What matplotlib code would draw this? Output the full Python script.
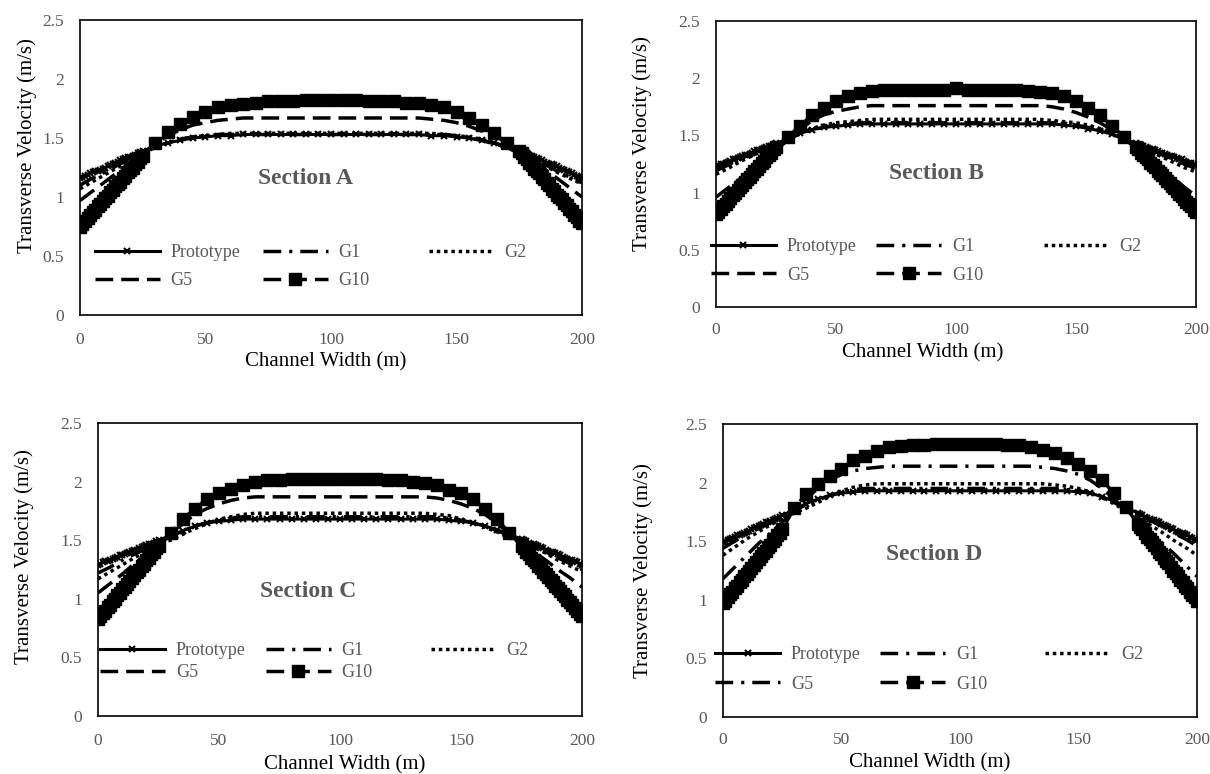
# Transverse velocity profiles across the channel width for sections A-D,
# comparing the prototype with the distorted models G1, G2, G5 and G10.

import matplotlib
matplotlib.use('Agg')
import matplotlib.pyplot as plt
from matplotlib.legend import Legend

plt.rcParams['font.family'] = ['Liberation Serif', 'DejaVu Serif']

# ----- x positions (m) -----
# dense near the banks, every 5 m in the middle (Prototype, G10)
x_fine = [0, 1, 2, 3, 4, 5, 6, 7, 8, 9, 10, 11, 12, 13, 14, 15, 16, 17, 18, 19, 20, 21, 22, 23, 24, 25,
          30, 35, 40, 45, 50, 55, 60, 65, 70, 75, 80, 85, 90, 95, 100, 105, 110, 115, 120, 125, 130, 135,
          140, 145, 150, 155, 160, 165, 170,
          175, 176, 177, 178, 179, 180, 181, 182, 183, 184, 185, 186, 187, 188, 189, 190, 191, 192, 193,
          194, 195, 196, 197, 198, 199, 200]
# every 5 m (G1, G2, G5)
x_coarse = [0, 5, 10, 15, 20, 25, 30, 35, 40, 45, 50, 55, 60, 65, 70, 75, 80, 85, 90, 95, 100,
            105, 110, 115, 120, 125, 130, 135, 140, 145, 150, 155, 160, 165, 170, 175, 180, 185, 190, 195, 200]

# ----- Section A -----
proto_a = [1.16, 1.17, 1.18, 1.19, 1.20, 1.21, 1.22, 1.22, 1.23, 1.24, 1.25, 1.26, 1.27, 1.28, 1.29, 1.30,
           1.31, 1.32, 1.33, 1.34, 1.34, 1.35, 1.36, 1.37, 1.38, 1.39,
           1.43, 1.46, 1.48, 1.50, 1.51, 1.52, 1.52, 1.53, 1.53, 1.53, 1.53, 1.53, 1.53, 1.53, 1.53, 1.53,
           1.53, 1.53, 1.53, 1.53, 1.53, 1.53, 1.52, 1.52, 1.51, 1.50, 1.48, 1.46, 1.43,
           1.40, 1.39, 1.38, 1.37, 1.36, 1.35, 1.34, 1.33, 1.32, 1.31, 1.30, 1.29, 1.28, 1.28, 1.27, 1.26,
           1.25, 1.24, 1.23, 1.22, 1.21, 1.20, 1.19, 1.18, 1.17, 1.16]
g1_a = [1.10, 1.16, 1.21, 1.27, 1.32, 1.38, 1.43, 1.46, 1.49, 1.51, 1.52, 1.53, 1.53, 1.53, 1.53, 1.53,
        1.53, 1.53, 1.53, 1.53, 1.53, 1.53, 1.53, 1.53, 1.53, 1.53, 1.53, 1.53, 1.53, 1.53, 1.52, 1.50,
        1.48, 1.45, 1.42, 1.38, 1.33, 1.28, 1.22, 1.17, 1.12]
g2_a = [1.07, 1.13, 1.19, 1.25, 1.31, 1.37, 1.42, 1.46, 1.49, 1.51, 1.52, 1.53, 1.54, 1.54, 1.54, 1.54,
        1.54, 1.54, 1.54, 1.54, 1.54, 1.54, 1.54, 1.54, 1.54, 1.54, 1.54, 1.54, 1.54, 1.53, 1.52, 1.51,
        1.49, 1.46, 1.42, 1.37, 1.32, 1.27, 1.21, 1.16, 1.11]
g5_a = [0.97, 1.05, 1.13, 1.21, 1.29, 1.37, 1.45, 1.52, 1.57, 1.61, 1.63, 1.65, 1.66, 1.67, 1.67, 1.67,
        1.67, 1.67, 1.67, 1.67, 1.67, 1.67, 1.67, 1.67, 1.67, 1.67, 1.67, 1.67, 1.66, 1.65, 1.63, 1.60,
        1.56, 1.52, 1.46, 1.39, 1.32, 1.24, 1.16, 1.08, 1.00]
g10_a = [0.75, 0.77, 0.80, 0.82, 0.85, 0.87, 0.89, 0.92, 0.94, 0.97, 0.99, 1.01, 1.04, 1.06, 1.09, 1.11,
         1.13, 1.16, 1.18, 1.21, 1.23, 1.25, 1.28, 1.30, 1.33, 1.35,
         1.46, 1.55, 1.62, 1.68, 1.72, 1.76, 1.78, 1.79, 1.80, 1.81, 1.81, 1.81, 1.82, 1.82, 1.82, 1.82,
         1.82, 1.81, 1.81, 1.81, 1.80, 1.80, 1.78, 1.76, 1.72, 1.67, 1.61, 1.54, 1.46,
         1.39, 1.37, 1.34, 1.32, 1.29, 1.27, 1.24, 1.22, 1.20, 1.17, 1.15, 1.12, 1.10, 1.07, 1.05, 1.02,
         1.00, 0.98, 0.95, 0.93, 0.90, 0.88, 0.85, 0.83, 0.80, 0.78]

# ----- Section B -----
proto_b = [1.23, 1.24, 1.25, 1.25, 1.26, 1.27, 1.28, 1.29, 1.29, 1.30, 1.31, 1.32, 1.33, 1.33, 1.34, 1.35,
           1.36, 1.37, 1.37, 1.38, 1.39, 1.40, 1.41, 1.41, 1.42, 1.43,
           1.47, 1.52, 1.55, 1.57, 1.58, 1.59, 1.60, 1.60, 1.60, 1.60, 1.60, 1.60, 1.60, 1.60, 1.60, 1.60,
           1.60, 1.60, 1.60, 1.60, 1.60, 1.60, 1.60, 1.59, 1.58, 1.56, 1.54, 1.51, 1.47,
           1.43, 1.42, 1.42, 1.41, 1.40, 1.39, 1.38, 1.38, 1.37, 1.36, 1.35, 1.35, 1.34, 1.33, 1.32, 1.32,
           1.31, 1.30, 1.29, 1.29, 1.28, 1.27, 1.26, 1.26, 1.25, 1.24]
g1_b = [1.19, 1.24, 1.29, 1.34, 1.38, 1.42, 1.47, 1.51, 1.55, 1.57, 1.59, 1.60, 1.61, 1.61, 1.61, 1.61,
        1.61, 1.61, 1.61, 1.61, 1.61, 1.61, 1.61, 1.61, 1.61, 1.61, 1.61, 1.61, 1.61, 1.60, 1.59, 1.57,
        1.55, 1.51, 1.47, 1.43, 1.39, 1.34, 1.30, 1.25, 1.21]
g2_b = [1.16, 1.21, 1.27, 1.32, 1.37, 1.42, 1.47, 1.52, 1.56, 1.59, 1.61, 1.62, 1.63, 1.64, 1.64, 1.64,
        1.64, 1.64, 1.64, 1.64, 1.64, 1.64, 1.64, 1.64, 1.64, 1.64, 1.64, 1.64, 1.63, 1.62, 1.61, 1.59,
        1.56, 1.52, 1.47, 1.42, 1.37, 1.32, 1.27, 1.22, 1.18]
g5_b = [0.96, 1.04, 1.12, 1.21, 1.29, 1.37, 1.46, 1.55, 1.63, 1.68, 1.71, 1.73, 1.75, 1.76, 1.76, 1.76,
        1.76, 1.76, 1.76, 1.76, 1.76, 1.76, 1.76, 1.76, 1.76, 1.76, 1.76, 1.76, 1.75, 1.73, 1.70, 1.66,
        1.61, 1.55, 1.47, 1.39, 1.30, 1.22, 1.14, 1.05, 0.97]
g10_b = [0.81, 0.83, 0.86, 0.88, 0.90, 0.93, 0.95, 0.98, 1.00, 1.02, 1.05, 1.07, 1.09, 1.12, 1.14, 1.16,
         1.19, 1.21, 1.23, 1.26, 1.28, 1.31, 1.33, 1.35, 1.38, 1.40,
         1.49, 1.58, 1.68, 1.74, 1.80, 1.84, 1.87, 1.89, 1.90, 1.90, 1.90, 1.90, 1.90, 1.90, 1.91, 1.90,
         1.90, 1.90, 1.90, 1.90, 1.89, 1.88, 1.87, 1.84, 1.80, 1.74, 1.68, 1.58, 1.49,
         1.40, 1.38, 1.35, 1.33, 1.31, 1.29, 1.26, 1.24, 1.22, 1.19, 1.17, 1.15, 1.13, 1.10, 1.08, 1.06,
         1.04, 1.01, 0.99, 0.97, 0.94, 0.92, 0.90, 0.88, 0.85, 0.83]

# ----- Section C -----
proto_c = [1.29, 1.30, 1.31, 1.32, 1.32, 1.33, 1.34, 1.35, 1.36, 1.37, 1.37, 1.38, 1.39, 1.40, 1.41, 1.42,
           1.42, 1.43, 1.44, 1.45, 1.46, 1.47, 1.47, 1.48, 1.49, 1.50,
           1.54, 1.58, 1.62, 1.65, 1.66, 1.67, 1.68, 1.68, 1.68, 1.68, 1.68, 1.68, 1.68, 1.68, 1.68, 1.68,
           1.68, 1.68, 1.68, 1.68, 1.68, 1.68, 1.68, 1.67, 1.66, 1.65, 1.62, 1.59, 1.55,
           1.51, 1.50, 1.49, 1.48, 1.47, 1.47, 1.46, 1.45, 1.44, 1.43, 1.42, 1.41, 1.40, 1.40, 1.39, 1.38,
           1.37, 1.36, 1.35, 1.34, 1.33, 1.33, 1.32, 1.31, 1.30, 1.29]
g1_c = [1.22, 1.27, 1.33, 1.38, 1.43, 1.48, 1.53, 1.58, 1.62, 1.65, 1.67, 1.69, 1.70, 1.70, 1.70, 1.70,
        1.70, 1.70, 1.70, 1.70, 1.70, 1.70, 1.70, 1.70, 1.70, 1.70, 1.70, 1.70, 1.70, 1.69, 1.67, 1.65,
        1.62, 1.58, 1.54, 1.50, 1.45, 1.40, 1.35, 1.30, 1.25]
g2_c = [1.17, 1.23, 1.29, 1.35, 1.41, 1.47, 1.50, 1.55, 1.60, 1.64, 1.68, 1.70, 1.72, 1.73, 1.73, 1.73,
        1.73, 1.73, 1.73, 1.73, 1.73, 1.73, 1.73, 1.73, 1.73, 1.73, 1.73, 1.73, 1.72, 1.71, 1.68, 1.65,
        1.61, 1.57, 1.52, 1.49, 1.44, 1.39, 1.33, 1.28, 1.23]
g5_c = [1.05, 1.13, 1.21, 1.30, 1.38, 1.46, 1.55, 1.64, 1.72, 1.77, 1.81, 1.84, 1.86, 1.87, 1.87, 1.87,
        1.87, 1.87, 1.87, 1.87, 1.87, 1.87, 1.87, 1.87, 1.87, 1.87, 1.87, 1.87, 1.86, 1.84, 1.81, 1.77,
        1.72, 1.64, 1.56, 1.48, 1.40, 1.33, 1.25, 1.18, 1.10]
g10_c = [0.83, 0.85, 0.88, 0.90, 0.93, 0.95, 0.98, 1.00, 1.03, 1.05, 1.08, 1.10, 1.13, 1.15, 1.18, 1.20,
         1.23, 1.25, 1.28, 1.30, 1.33, 1.35, 1.38, 1.40, 1.43, 1.45,
         1.56, 1.68, 1.77, 1.85, 1.90, 1.94, 1.97, 2.00, 2.01, 2.01, 2.02, 2.02, 2.02, 2.02, 2.02, 2.02,
         2.02, 2.02, 2.01, 2.01, 2.00, 1.99, 1.97, 1.93, 1.90, 1.85, 1.77, 1.68, 1.56,
         1.45, 1.43, 1.40, 1.38, 1.35, 1.33, 1.31, 1.28, 1.26, 1.23, 1.21, 1.19, 1.16, 1.14, 1.11, 1.09,
         1.07, 1.04, 1.02, 0.99, 0.97, 0.95, 0.92, 0.90, 0.87, 0.85]

# ----- Section D -----
proto_d = [1.49, 1.50, 1.51, 1.52, 1.53, 1.54, 1.55, 1.55, 1.56, 1.57, 1.58, 1.59, 1.60, 1.61, 1.62, 1.63,
           1.64, 1.65, 1.66, 1.66, 1.67, 1.68, 1.69, 1.70, 1.71, 1.72,
           1.77, 1.82, 1.86, 1.89, 1.91, 1.92, 1.93, 1.93, 1.93, 1.93, 1.93, 1.93, 1.93, 1.93, 1.93, 1.93,
           1.93, 1.93, 1.93, 1.93, 1.93, 1.93, 1.93, 1.93, 1.92, 1.91, 1.88, 1.84, 1.79,
           1.74, 1.73, 1.72, 1.71, 1.70, 1.69, 1.68, 1.68, 1.67, 1.66, 1.65, 1.64, 1.63, 1.62, 1.61, 1.60,
           1.59, 1.58, 1.57, 1.57, 1.56, 1.55, 1.54, 1.53, 1.52, 1.51]
g1_d = [1.44, 1.50, 1.56, 1.61, 1.66, 1.71, 1.76, 1.81, 1.85, 1.89, 1.92, 1.94, 1.95, 1.95, 1.95, 1.95,
        1.95, 1.95, 1.95, 1.95, 1.95, 1.95, 1.95, 1.95, 1.95, 1.95, 1.95, 1.95, 1.95, 1.94, 1.93, 1.91,
        1.87, 1.83, 1.78, 1.73, 1.68, 1.63, 1.57, 1.52, 1.46]
g2_d = [1.38, 1.45, 1.52, 1.58, 1.64, 1.69, 1.74, 1.78, 1.83, 1.88, 1.93, 1.96, 1.98, 1.99, 1.99, 1.99,
        1.99, 1.99, 1.99, 1.99, 1.99, 1.99, 1.99, 1.99, 1.99, 1.99, 1.99, 1.99, 1.98, 1.97, 1.95, 1.92,
        1.88, 1.82, 1.76, 1.70, 1.64, 1.58, 1.51, 1.45, 1.38]
g5_d = [1.18, 1.28, 1.38, 1.48, 1.57, 1.66, 1.76, 1.86, 1.95, 2.02, 2.07, 2.10, 2.12, 2.13, 2.14, 2.14,
        2.14, 2.14, 2.14, 2.14, 2.14, 2.14, 2.14, 2.14, 2.14, 2.14, 2.14, 2.13, 2.12, 2.10, 2.07, 2.02,
        1.95, 1.86, 1.77, 1.68, 1.59, 1.49, 1.40, 1.30, 1.20]
g10_d = [0.97, 0.99, 1.02, 1.05, 1.07, 1.10, 1.12, 1.15, 1.17, 1.20, 1.22, 1.25, 1.27, 1.30, 1.32, 1.35,
         1.37, 1.40, 1.42, 1.45, 1.47, 1.50, 1.52, 1.55, 1.57, 1.60,
         1.78, 1.90, 1.99, 2.06, 2.12, 2.19, 2.23, 2.27, 2.30, 2.31, 2.32, 2.32, 2.33, 2.33, 2.33, 2.33,
         2.33, 2.33, 2.32, 2.32, 2.30, 2.28, 2.25, 2.21, 2.16, 2.10, 2.02, 1.91, 1.79,
         1.65, 1.62, 1.60, 1.57, 1.54, 1.52, 1.49, 1.47, 1.44, 1.41, 1.39, 1.36, 1.33, 1.31, 1.28, 1.25,
         1.23, 1.20, 1.17, 1.15, 1.12, 1.10, 1.07, 1.04, 1.02, 0.99]

x_ticks = [0, 50, 100, 150, 200]
y_ticks = [0, 0.5, 1, 1.5, 2, 2.5]
y_tick_labels = ['0', '0.5', '1', '1.5', '2', '2.5']

GREY = '#595959'
DASH = (5.1, 2.3)
DASH_DOT = (5.1, 2.3, 0.9, 2.3)


def draw_panel(ax, title, proto, g1, g2, g5, g10, g5_dashes, lay):
    h_p, = ax.plot(x_fine, proto, color='black', lw=2.2, marker='x', ms=5, mew=1.5)
    h_1, = ax.plot(x_coarse, g1, color='black', lw=2.5, dashes=DASH_DOT)
    h_2, = ax.plot(x_coarse, g2, color='black', lw=2.5, dashes=(1.0, 1.1))
    h_5, = ax.plot(x_coarse, g5, color='black', lw=2.5, dashes=g5_dashes)
    h_10, = ax.plot(x_fine, g10, color='black', lw=2.5, dashes=DASH, marker='s', ms=8)

    ax.set_xlim(0, 200)
    ax.set_ylim(0, 2.5)
    ax.set_xticks(x_ticks)
    ax.set_yticks(y_ticks)
    ax.set_yticklabels(y_tick_labels)
    ax.tick_params(length=0, labelsize=12.5, labelcolor=GREY)
    ax.tick_params(axis='y', pad=11.5)
    ax.tick_params(axis='x', pad=lay['xpad'])
    for sp in ax.spines.values():
        sp.set_linewidth(1.2)

    ax.set_xlabel('Channel Width (m)', fontsize=15, va='center')
    ax.set_ylabel('Transverse Velocity (m/s)', fontsize=15, va='center')
    ax.xaxis.set_label_coords(*lay['xlab'])
    ax.yaxis.set_label_coords(*lay['ylab'])

    ax.text(lay['title'][0], lay['title'][1], title, fontsize=17, fontweight='bold',
            color=GREY, ha='center', va='center')

    # Excel-like legend: 3 columns, 2 rows, inside the plot area
    cx = lay['leg_x']
    ry = lay['leg_y']
    cells = [(h_p, 'Prototype', cx[0], ry[0]), (h_1, 'G1', cx[1], ry[0]), (h_2, 'G2', cx[2], ry[0]),
             (h_5, 'G5', cx[0], ry[1]), (h_10, 'G10', cx[1], ry[1])]
    for h, lab, x, y in cells:
        leg = Legend(ax, [h], [lab], loc='center left', bbox_to_anchor=(x, y),
                     bbox_transform=ax.transData, frameon=False, borderpad=0, borderaxespad=0,
                     handlelength=3.6, handletextpad=0.6, fontsize=13, labelcolor=GREY, numpoints=1)
        ax.add_artist(leg)


fig = plt.figure(figsize=(12.1, 7.74), dpi=100)
ax_a = fig.add_axes([0.0661, 0.5930, 0.4149, 0.3811])
ax_b = fig.add_axes([0.5917, 0.6034, 0.3967, 0.3695])
ax_c = fig.add_axes([0.0810, 0.0749, 0.4000, 0.3786])
ax_d = fig.add_axes([0.5975, 0.0736, 0.3917, 0.3786])

draw_panel(ax_a, 'Section A', proto_a, g1_a, g2_a, g5_a, g10_a, DASH,
           dict(xpad=12, xlab=(0.49, -0.158), ylab=(-0.106, 0.573), title=(90, 1.16),
                leg_x=(5.8, 72.8, 138.9), leg_y=(0.53, 0.29)))
draw_panel(ax_b, 'Section B', proto_b, g1_b, g2_b, g5_b, g10_b, DASH,
           dict(xpad=11, xlab=(0.43, -0.161), ylab=(-0.154, 0.572), title=(92, 1.17),
                leg_x=(-2.1, 66.8, 136.5), leg_y=(0.525, 0.277)))
draw_panel(ax_c, 'Section C', proto_c, g1_c, g2_c, g5_c, g10_c, DASH,
           dict(xpad=12, xlab=(0.51, -0.167), ylab=(-0.153, 0.544), title=(87, 1.06),
                leg_x=(0.8, 69.3, 137.4), leg_y=(0.56, 0.37)))
draw_panel(ax_d, 'Section D', proto_d, g1_d, g2_d, g5_d, g10_d, DASH_DOT,
           dict(xpad=11, xlab=(0.436, -0.157), ylab=(-0.169, 0.50), title=(89, 1.39),
                leg_x=(-3.3, 66.4, 135.9), leg_y=(0.53, 0.28)))

fig.savefig('out.png', dpi=100)
plt.close(fig)
